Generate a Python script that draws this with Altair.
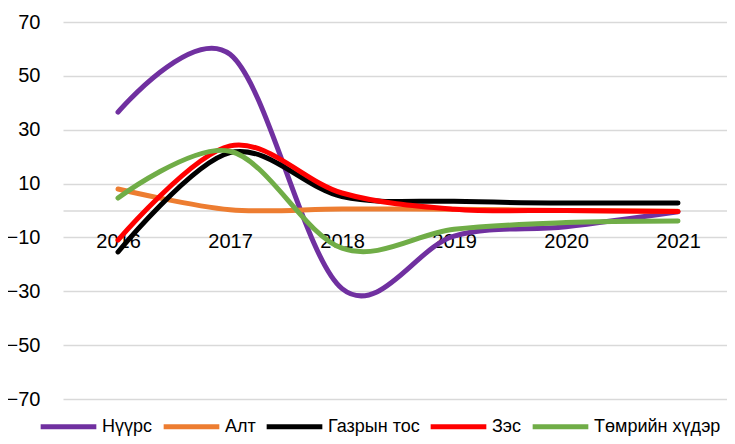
import altair as alt
import pandas as pd

years = ["2016", "2017", "2018", "2019", "2020", "2021"]
series_names = ["Нүүрс", "Алт", "Газрын тос", "Зэс", "Төмрийн хүдэр"]
coal = [36.5, 58.0, -29.0, -9.5, -6.0, -0.5]
gold = [8.0, 0.3, 0.6, 0.5, 0.0, -0.3]
oil = [-15.4, 21.5, 5.2, 3.4, 2.8, 2.8]
copper = [-11.0, 24.0, 6.5, 0.5, 0.0, -0.4]
iron = [4.6, 22.0, -14.0, -7.0, -4.5, -3.9]
colors = ["#7030A0", "#ED7D31", "#000000", "#FF0000", "#70AD47"]
y_ticks = [-70, -50, -30, -10, 10, 30, 50, 70]

rows = []
for i, (name, vals) in enumerate(zip(series_names, [coal, gold, oil, copper, iron])):
    for y, v in zip(years, vals):
        rows.append({"year": y, "value": v, "series": name, "order": i})
df = pd.DataFrame(rows)

FONT = "Liberation Sans"
W, H = 664, 377

lines = alt.Chart(df).mark_line(
    interpolate="cardinal", strokeWidth=5, strokeCap="round", strokeJoin="round"
).encode(
    x=alt.X("year:O", sort=years,
            scale=alt.Scale(type="point", padding=0.4643, align=0.529),
            axis=alt.Axis(title=None, labelAngle=0, labelFontSize=20, labelFont=FONT,
                          labelColor="#000000", ticks=False, domain=True,
                          domainColor="#D9D9D9", domainWidth=1.5,
                          offset=-188.5, labelPadding=21, grid=False)),
    y=alt.Y("value:Q", scale=alt.Scale(domain=[-70, 70], nice=False, zero=False),
            axis=alt.Axis(title=None, values=y_ticks, labelFontSize=20, labelFont=FONT,
                          labelColor="#000000", ticks=False, domain=False,
                          labelPadding=23, grid=True, gridColor="#D9D9D9",
                          gridWidth=1.5)),
    color=alt.Color("series:N", sort=series_names,
                    scale=alt.Scale(domain=series_names, range=colors),
                    legend=alt.Legend(title=None, orient="none", direction="horizontal",
                                      legendX=-25, legendY=374,
                                      symbolType="stroke", symbolSize=3100,
                                      symbolStrokeWidth=5, labelFontSize=18,
                                      labelFont=FONT, labelColor="#000000",
                                      labelOffset=3, columnPadding=0,
                                      labelLimit=300)),
    order=alt.Order("order:Q"),
    detail="series:N",
)

chart = lines.properties(
    width=W, height=H,
    background="white",
    autosize=alt.AutoSizeParams(type="none"),
    padding={"left": 55, "top": 14, "right": 0, "bottom": 37},
).configure_view(stroke=None)

chart.save("out.html", embed_options={"renderer": "svg", "actions": False})
